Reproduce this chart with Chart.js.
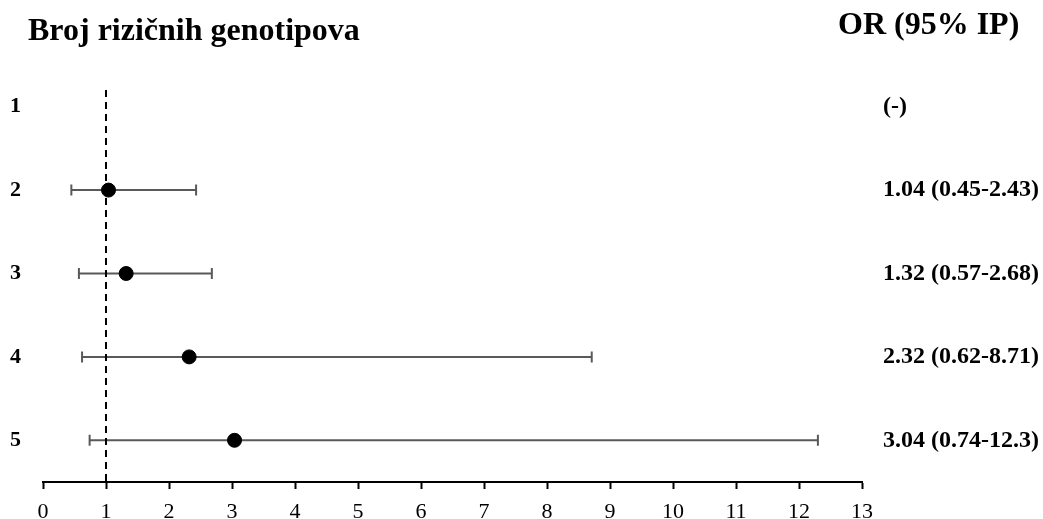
<!DOCTYPE html>
<html>
<head>
<meta charset="utf-8">
<script src="https://cdn.jsdelivr.net/npm/chart.js@4.4.0/dist/chart.umd.min.js"></script>
<style>
    body { margin: 0; background: #fff; }
    #wrap { position: relative; width: 1043px; height: 519px; }
    .head { position: absolute; font-family: "Liberation Serif", "Times New Roman", serif; font-weight: bold; font-size: 32px; line-height: 32px; color: #000; white-space: nowrap; }
</style>
</head>
<body>
<div id="wrap">
    <canvas id="forestChart" width="1043" height="519"></canvas>
    <div class="head" style="left:28px; top:13px;">Broj rizičnih genotipova</div>
    <div class="head" style="left:838px; top:7px;">OR (95% IP)</div>
</div>
<script>
// rows = broj rizičnih genotipova
const rows = [1, 2, 3, 4, 5];
const oddsRatio = [null, 1.04, 1.32, 2.32, 3.04];
const lowerCI = [null, 0.45, 0.57, 0.62, 0.74];
const upperCI = [null, 2.43, 2.68, 8.71, 12.3];
const orLabels = ["(-)", "1.04 (0.45-2.43)", "1.32 (0.57-2.68)", "2.32 (0.62-8.71)", "3.04 (0.74-12.3)"];
const xTicks = [0, 1, 2, 3, 4, 5, 6, 7, 8, 9, 10, 11, 12, 13];
const refValue = 1;

document.addEventListener("DOMContentLoaded", () => {
    initForest(document.getElementById("forestChart"));
});

function initForest(canvas) {
    let serif = "'Liberation Serif', 'Times New Roman', serif";

    let errorBars = {
        id: "errorBars",
        beforeDatasetsDraw(chart) {
            let ctx = chart.ctx;
            let xs = chart.scales.x;
            let ys = chart.scales.y;
            ctx.save();
            ctx.strokeStyle = "#595959";
            ctx.lineWidth = 2;
            rows.forEach((r, i) => {
                if (lowerCI[i] == null) return;
                let y = ys.getPixelForValue(r);
                let x1 = xs.getPixelForValue(lowerCI[i]);
                let x2 = xs.getPixelForValue(upperCI[i]);
                ctx.beginPath();
                ctx.moveTo(x1, y); ctx.lineTo(x2, y);
                ctx.moveTo(x1, y - 5.5); ctx.lineTo(x1, y + 5.5);
                ctx.moveTo(x2, y - 5.5); ctx.lineTo(x2, y + 5.5);
                ctx.stroke();
            });
            ctx.restore();
        }
    };

    let yCommon = {
        type: "linear",
        min: 0.8,
        max: 5.5,
        reverse: true,
        afterBuildTicks: (scale) => { scale.ticks = rows.map(v => ({ value: v })); },
        grid: { display: false, drawTicks: false },
        border: { display: false }
    };

    new Chart(canvas, {
        type: "scatter",
        data: {
            datasets: [
                {
                    type: "line",
                    data: [{ x: refValue, y: 0.8 }, { x: refValue, y: 5.5 }],
                    borderColor: "#000",
                    borderWidth: 2,
                    borderDash: [7, 5],
                    pointRadius: 0,
                    yAxisID: "y"
                },
                {
                    data: rows.map((r, i) => ({ x: oddsRatio[i], y: r })).filter(p => p.x != null),
                    backgroundColor: "#000",
                    borderColor: "#000",
                    pointRadius: 7,
                    yAxisID: "y"
                }
            ]
        },
        options: {
            responsive: false,
            animation: false,
            layout: { padding: { left: 10, top: 90, right: 0, bottom: 0 } },
            plugins: { legend: { display: false }, tooltip: { enabled: false } },
            scales: {
                x: {
                    type: "linear",
                    min: 0,
                    max: 13,
                    afterBuildTicks: (scale) => { scale.ticks = xTicks.map(v => ({ value: v })); },
                    afterFit: (scale) => { scale.height = 37; },
                    grid: { drawOnChartArea: false, drawTicks: true, tickLength: 7, tickWidth: 2, tickColor: "#000" },
                    border: { display: true, color: "#000", width: 2 },
                    ticks: { color: "#000", padding: 10, font: { family: serif, size: 22 } }
                },
                y: Object.assign({}, yCommon, {
                    position: "left",
                    afterFit: (scale) => { scale.width = 33; },
                    ticks: { color: "#000", crossAlign: "far", padding: 0, autoSkip: false,
                        font: { family: serif, size: 22, weight: "bold" } }
                }),
                y2: Object.assign({}, yCommon, {
                    position: "right",
                    afterFit: (scale) => { scale.width = 181; },
                    ticks: { color: "#000", crossAlign: "near", padding: 21, autoSkip: false,
                        callback: (v) => orLabels[rows.indexOf(v)],
                        font: { family: serif, size: 24, weight: "bold" } }
                })
            }
        },
        plugins: [errorBars]
    });
}
</script>
</body>
</html>
